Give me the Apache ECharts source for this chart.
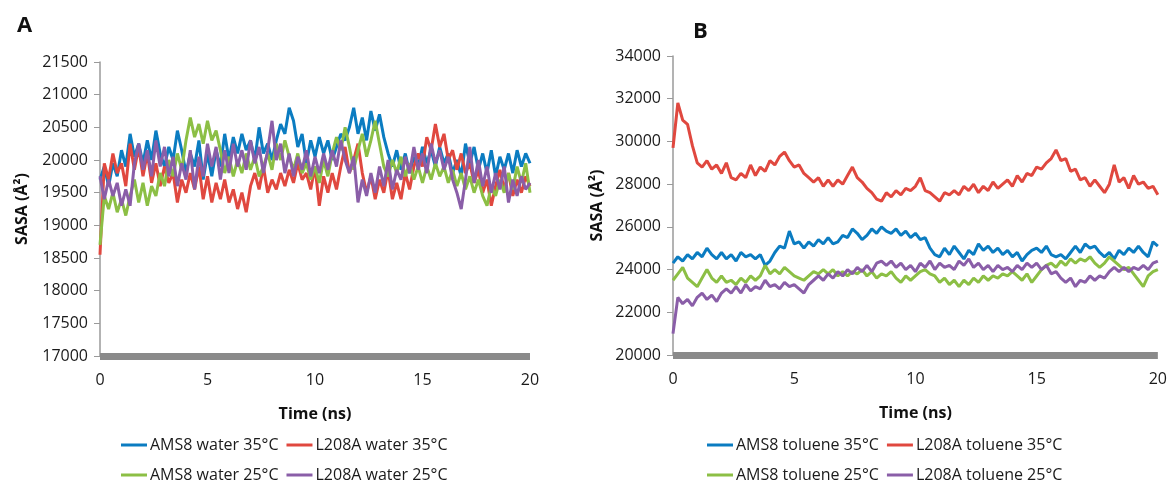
<!DOCTYPE html>
<html>
<head>
<meta charset="utf-8">
<script src="https://cdn.jsdelivr.net/npm/echarts@6/dist/echarts.min.js"></script>
<style>
  html, body { margin: 0; padding: 0; background: #fff; }
  #chart { width: 1170px; height: 481px; }
</style>
</head>
<body>
<div id="chart"></div>
<script>
// time axis, one frame every 0.2 ns
const times = [];
for (let i = 0; i <= 100; i++) times.push(+(i * 0.2).toFixed(1));

const namesA = ["AMS8 water 35°C", "L208A water 35°C", "AMS8 water 25°C", "L208A water 25°C"];
const namesB = ["AMS8 toluene 35°C", "L208A toluene 35°C", "AMS8 toluene 25°C", "L208A toluene 25°C"];

// panel A - water
const amsWater35 = [19700,19900,19600,19950,19750,20150,19900,20400,20050,20250,
  19950,20300,20000,20450,20100,19900,20200,20000,20450,20150,
  19800,20100,19900,20300,19700,20100,19750,20150,19900,20400,
  20000,20350,20100,20400,20150,20300,20000,20500,20100,20250,
  20000,20300,20550,20400,20800,20600,20200,20400,19950,20300,
  20050,20350,20100,20300,20000,20200,20400,20300,20500,20800,
  20400,20650,20300,20750,20450,20700,20350,20100,19900,20150,
  19850,20100,19800,20050,19900,20200,19950,20150,19900,20200,
  19950,20100,19800,20000,19750,20250,19950,20200,19850,20100,
  19800,20150,19750,20050,19850,20100,19800,20150,19900,20100,
  19950];
const l208Water35 = [18550,19950,19700,20100,19800,19950,19600,20250,19850,20200,
  19750,20100,19650,19950,19600,19900,19650,19800,19350,19700,
  19500,19800,19550,19900,19400,19750,19350,19650,19400,19700,
  19350,19550,19250,19500,19200,19600,19800,19550,19900,19500,
  19700,19550,19800,19600,19850,19650,19950,19700,19800,19550,
  19900,19300,19750,19500,19800,19550,19900,20200,19800,20000,
  20250,19800,19500,19750,19400,19700,19500,19850,19400,19650,
  19400,19800,19550,19900,20100,19900,20350,20150,20550,20200,
  20400,20000,20150,19850,20100,19800,19950,19650,19850,19500,
  19700,19300,19600,19850,19550,19800,19450,19700,19500,19750,
  19600];
const amsWater25 = [18700,19450,19250,19500,19200,19400,19150,19450,19700,19350,
  19650,19300,19600,19450,19800,19600,20000,19750,20100,19850,
  20300,20650,20350,20550,20250,20600,20300,20450,20150,19800,
  20050,19750,20000,19800,20100,19850,20050,19750,19900,20100,
  19850,20250,20000,20300,20050,19850,20100,19800,19950,19700,
  19900,19650,20000,19750,20100,20350,20150,20500,20200,19850,
  20150,20400,20050,20300,20600,20250,19900,19750,20000,19800,
  20050,19750,19950,19700,19900,19650,19900,19700,19950,19750,
  19900,19650,19850,19600,19800,19550,19750,19500,19700,19450,
  19300,19600,19450,19700,19500,19800,19550,19900,19650,19950,
  19500];
const l208Water25 = [19750,19400,19700,19450,19650,19300,19550,19300,19950,20250,
  19850,20150,19750,20300,19900,20200,19750,20050,19600,19950,
  19700,20150,19550,20050,19750,20250,19900,20200,19700,20150,
  19800,20250,19900,20150,19850,20300,19950,20200,19800,20150,
  20600,20000,20250,19800,20100,19750,20050,19850,20150,19750,
  20050,19800,20100,19850,20150,19900,20300,20000,19800,20050,
  19350,19700,19450,19800,19500,19900,19600,20000,19550,19850,
  19700,20050,19800,20200,19850,20100,19800,20250,19950,20150,
  19850,20050,19700,19500,19250,19700,20200,19650,20000,19600,
  19900,19500,19800,19550,19900,19350,19700,19450,19750,19550,
  19650];

// panel B - toluene
const amsToluene35 = [24300,24600,24400,24700,24500,24800,24600,25000,24700,24500,
  24800,24500,24700,24400,24800,24600,24700,24500,24700,24200,
  24400,24800,25100,25000,25800,25200,25300,25000,25300,25100,
  25400,25200,25500,25200,25300,25600,25500,25900,25700,25400,
  25600,25900,25700,26000,25800,25700,25900,25600,25800,25500,
  25700,25400,25500,25000,24700,24600,25000,24700,25100,24800,
  24500,24900,24700,25200,24900,25100,24800,25000,24700,24900,
  24600,24800,24400,24700,24900,25000,24800,25100,24700,24600,
  24700,24500,24800,25100,24800,25200,25000,25100,24800,24600,
  24800,24500,24900,24700,25000,24800,25100,24800,24600,25300,
  25100];
const l208Toluene35 = [29700,31800,31000,30800,29800,29000,28800,29100,28700,28900,
  28500,29000,28300,28200,28500,28300,28900,28400,28800,28600,
  29100,28900,29300,29500,29100,28800,28900,28500,28300,28100,
  28300,27900,28200,27900,28200,28000,28400,28800,28300,28100,
  27800,27600,27300,27200,27600,27400,27700,27500,27800,27700,
  27900,28300,27700,27600,27400,27200,27600,27500,27700,27500,
  27900,27700,28000,27600,27900,27700,28100,27800,28000,28200,
  27900,28400,28100,28500,28400,28800,28700,29000,29200,29600,
  29100,29200,28600,28700,28200,28300,27900,28200,27900,27600,
  28000,28900,28100,28300,27800,28400,28000,28100,27800,27900,
  27500];
const amsToluene25 = [23500,23800,24100,23600,23400,23200,23600,24000,23600,23400,
  23700,23400,23500,23300,23600,23400,23700,23500,23700,24200,
  23800,24000,23800,24100,23900,23700,23600,23500,23700,23900,
  23800,24000,23800,24000,23700,23900,23700,23900,23800,24000,
  23700,23900,23600,23800,23700,23900,23600,23400,23700,23500,
  23700,23900,24000,23800,23700,23400,23600,23300,23500,23200,
  23500,23300,23600,23400,23700,23500,23700,23600,23800,23700,
  23900,23700,23500,23800,23400,23700,24000,24200,24300,24100,
  24400,24200,24500,24300,24500,24400,24600,24300,24100,24300,
  24600,24400,24200,24000,24100,23800,23500,23200,23700,23900,
  24000];
const l208Toluene25 = [21000,22700,22400,22600,22300,22700,22900,22600,22800,22500,
  22900,23100,22900,23200,22900,23300,23000,23200,23100,23500,
  23200,23300,23100,23400,23200,23300,23100,22900,23300,23500,
  23700,23500,23800,23600,23900,23700,24000,23800,24100,23900,
  24200,23900,24300,24400,24200,24400,24100,24300,24000,24200,
  23900,24300,24100,24400,24000,24300,24100,24200,24000,24400,
  24200,24500,24100,24300,24000,24200,23900,24200,24000,24100,
  23900,24200,24000,24300,24100,24300,24000,24200,23800,23900,
  23600,23400,23600,23200,23500,23400,23700,23500,23700,23600,
  23900,24100,23900,24100,23900,24100,24000,24200,24000,24300,
  24400];

const colors = ["#0b7cc1", "#e0483f", "#8cbf45", "#8a5ea8"];
const font = "'Open Sans', 'Liberation Sans', sans-serif";

function pairs(vals) {
  return times.map((t, i) => [t, vals[i]]);
}

function makeX(gridIndex) {
  return {
    type: "value", gridIndex, min: 0, max: 20, interval: 5,
    name: "Time (ns)", nameLocation: "middle", nameGap: 50,
    nameTextStyle: { fontFamily: font, fontSize: 16, fontWeight: "bold", color: "#111" },
    axisLine: { show: true, lineStyle: { color: "#8a8a8a", width: 7, cap: "butt" } },
    axisTick: { show: false },
    splitLine: { show: false },
    axisLabel: { fontFamily: font, fontSize: 16, color: "#1a1a1a", margin: 16, formatter: (v) => String(v) },
  };
}

function makeY(gridIndex, min, max, interval, gap) {
  return {
    type: "value", gridIndex, min, max, interval,
    name: "SASA (Å²)", nameLocation: "middle", nameGap: gap,
    nameTextStyle: { fontFamily: font, fontSize: 16, fontWeight: "bold", color: "#111" },
    axisLine: { show: true, lineStyle: { color: "#9a9a9a", width: 1.5 } },
    axisTick: { show: true, inside: false, length: 6, lineStyle: { color: "#9a9a9a" } },
    splitLine: { show: false },
    axisLabel: { fontFamily: font, fontSize: 16, color: "#1a1a1a", margin: 12, formatter: (v) => String(v) },
  };
}

function makeSeries(name, vals, idx, axis) {
  return {
    name, type: "line", data: pairs(vals),
    xAxisIndex: axis, yAxisIndex: axis,
    showSymbol: false, symbol: "none",
    lineStyle: { width: 3, color: colors[idx] },
    itemStyle: { color: colors[idx] },
    z: 2 + idx,
  };
}

function makeLegend(data, left, top) {
  return {
    data, left, top, itemGap: 8, itemWidth: 26, itemHeight: 3,
    icon: "rect", selectedMode: false,
    textStyle: { fontFamily: font, fontSize: 16, color: "#1a1a1a", padding: [0, 0, 0, -2] },
  };
}

const chart = echarts.init(document.getElementById("chart"));
chart.setOption({
  animation: false,
  backgroundColor: "#fff",
  title: [
    { text: "A", left: 12, top: 10, textStyle: { fontFamily: font, fontSize: 22, fontWeight: "bold", color: "#111" } },
    { text: "B", left: 688, top: 16, textStyle: { fontFamily: font, fontSize: 22, fontWeight: "bold", color: "#111" } },
  ],
  grid: [
    { left: 100, top: 62, width: 430, height: 294 },
    { left: 673, top: 56, width: 485, height: 299 },
  ],
  xAxis: [makeX(0), makeX(1)],
  yAxis: [makeY(0, 17000, 21500, 500, 70), makeY(1, 20000, 34000, 2000, 68)],
  legend: [
    makeLegend([namesA[0], namesA[1]], 116, 432),
    makeLegend([namesA[2], namesA[3]], 116, 462),
    makeLegend([namesB[0], namesB[1]], 702, 432),
    makeLegend([namesB[2], namesB[3]], 702, 462),
  ],
  series: [
    makeSeries(namesA[0], amsWater35, 0, 0),
    makeSeries(namesA[1], l208Water35, 1, 0),
    makeSeries(namesA[2], amsWater25, 2, 0),
    makeSeries(namesA[3], l208Water25, 3, 0),
    makeSeries(namesB[0], amsToluene35, 0, 1),
    makeSeries(namesB[1], l208Toluene35, 1, 1),
    makeSeries(namesB[2], amsToluene25, 2, 1),
    makeSeries(namesB[3], l208Toluene25, 3, 1),
  ],
});
</script>
</body>
</html>
